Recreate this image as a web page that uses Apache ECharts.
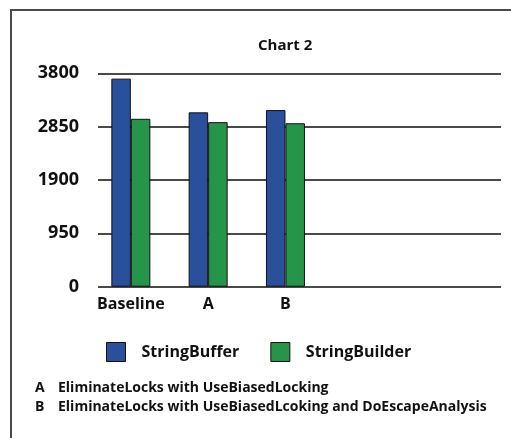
<!DOCTYPE html>
<html>
<head>
<meta charset="utf-8">
<script src="https://cdn.jsdelivr.net/npm/echarts@6/dist/echarts.min.js"></script>
<style>
  html, body { margin: 0; padding: 0; background: #fff; }
  #chart { width: 511px; height: 438px; }
</style>
</head>
<body>
<div id="chart"></div>
<script>
const categories = ['Baseline', 'A', 'B'];
const stringBuffer = [3705, 3105, 3145];
const stringBuilder = [2990, 2930, 2910];
const yTicks = [0, 950, 1900, 2850, 3800];
const notes = [
  ['A', 'EliminateLocks with UseBiasedLocking'],
  ['B', 'EliminateLocks with UseBiasedLcoking and DoEscapeAnalysis']
];

const FONT = '"Open Sans", "DejaVu Sans", sans-serif';
const LINE = '#4a4a4a';

const chart = echarts.init(document.getElementById('chart'));

const noteGraphics = [];
notes.forEach((n, i) => {
  noteGraphics.push({
    type: 'text', left: 35, top: 381 + i * 19,
    style: { text: n[0], font: 'bold 14px ' + FONT, fill: '#111' }
  });
  noteGraphics.push({
    type: 'text', left: 58, top: 381 + i * 19,
    style: { text: n[1], font: 'bold 14px ' + FONT, fill: '#111' }
  });
});

chart.setOption({
  animation: false,
  title: {
    text: 'Chart 2', left: 258, top: 38, padding: 0,
    textStyle: { fontFamily: FONT, fontWeight: 'bold', fontSize: 15, color: '#111' }
  },
  legend: {
    left: 106, top: 342, padding: 0,
    itemWidth: 19, itemHeight: 19, itemGap: 31,
    icon: 'rect',
    itemStyle: { borderColor: '#111', borderWidth: 1 },
    textStyle: { fontFamily: FONT, fontWeight: 'bold', fontSize: 16, color: '#111', padding: [0, 0, 0, 11] },
    data: ['StringBuffer', 'StringBuilder']
  },
  grid: [
    { left: 98, right: 10, top: 73.3, height: 213.4 },
    { left: 92.2, width: 231.9, top: 73.3, height: 213.4 }
  ],
  xAxis: [
    { gridIndex: 0, type: 'category', data: categories, show: false },
    {
      gridIndex: 1, type: 'category', data: categories,
      axisLine: { show: false }, axisTick: { show: false },
      axisLabel: { interval: 0, margin: 10, fontFamily: FONT, fontWeight: 'bold', fontSize: 16, color: '#111' }
    }
  ],
  yAxis: [
    {
      gridIndex: 0, type: 'value', min: yTicks[0], max: yTicks[yTicks.length - 1], interval: yTicks[1] - yTicks[0],
      axisLine: { show: false }, axisTick: { show: false },
      axisLabel: { margin: 19, fontFamily: FONT, fontWeight: 'bold', fontSize: 18, color: '#111',
        formatter: v => String(v) },
      splitLine: { lineStyle: { color: LINE, width: 2 } }
    },
    {
      gridIndex: 1, type: 'value', min: yTicks[0], max: yTicks[yTicks.length - 1], show: false,
      splitLine: { show: false }
    }
  ],
  graphic: [
    { type: 'polyline', shape: { points: [[11, 438], [11, 10], [511, 10]] },
      style: { stroke: LINE, lineWidth: 2, fill: null } }
  ].concat(noteGraphics),
  series: [
    {
      name: 'StringBuffer', type: 'bar', xAxisIndex: 1, yAxisIndex: 1,
      data: stringBuffer, barWidth: 19.5, barGap: '0%',
      itemStyle: { color: '#2a4f9b', borderColor: '#111', borderWidth: 1 }
    },
    {
      name: 'StringBuilder', type: 'bar', xAxisIndex: 1, yAxisIndex: 1,
      data: stringBuilder, barWidth: 19.5, barGap: '0%',
      itemStyle: { color: '#279549', borderColor: '#111', borderWidth: 1 }
    }
  ]
});
</script>
</body>
</html>
